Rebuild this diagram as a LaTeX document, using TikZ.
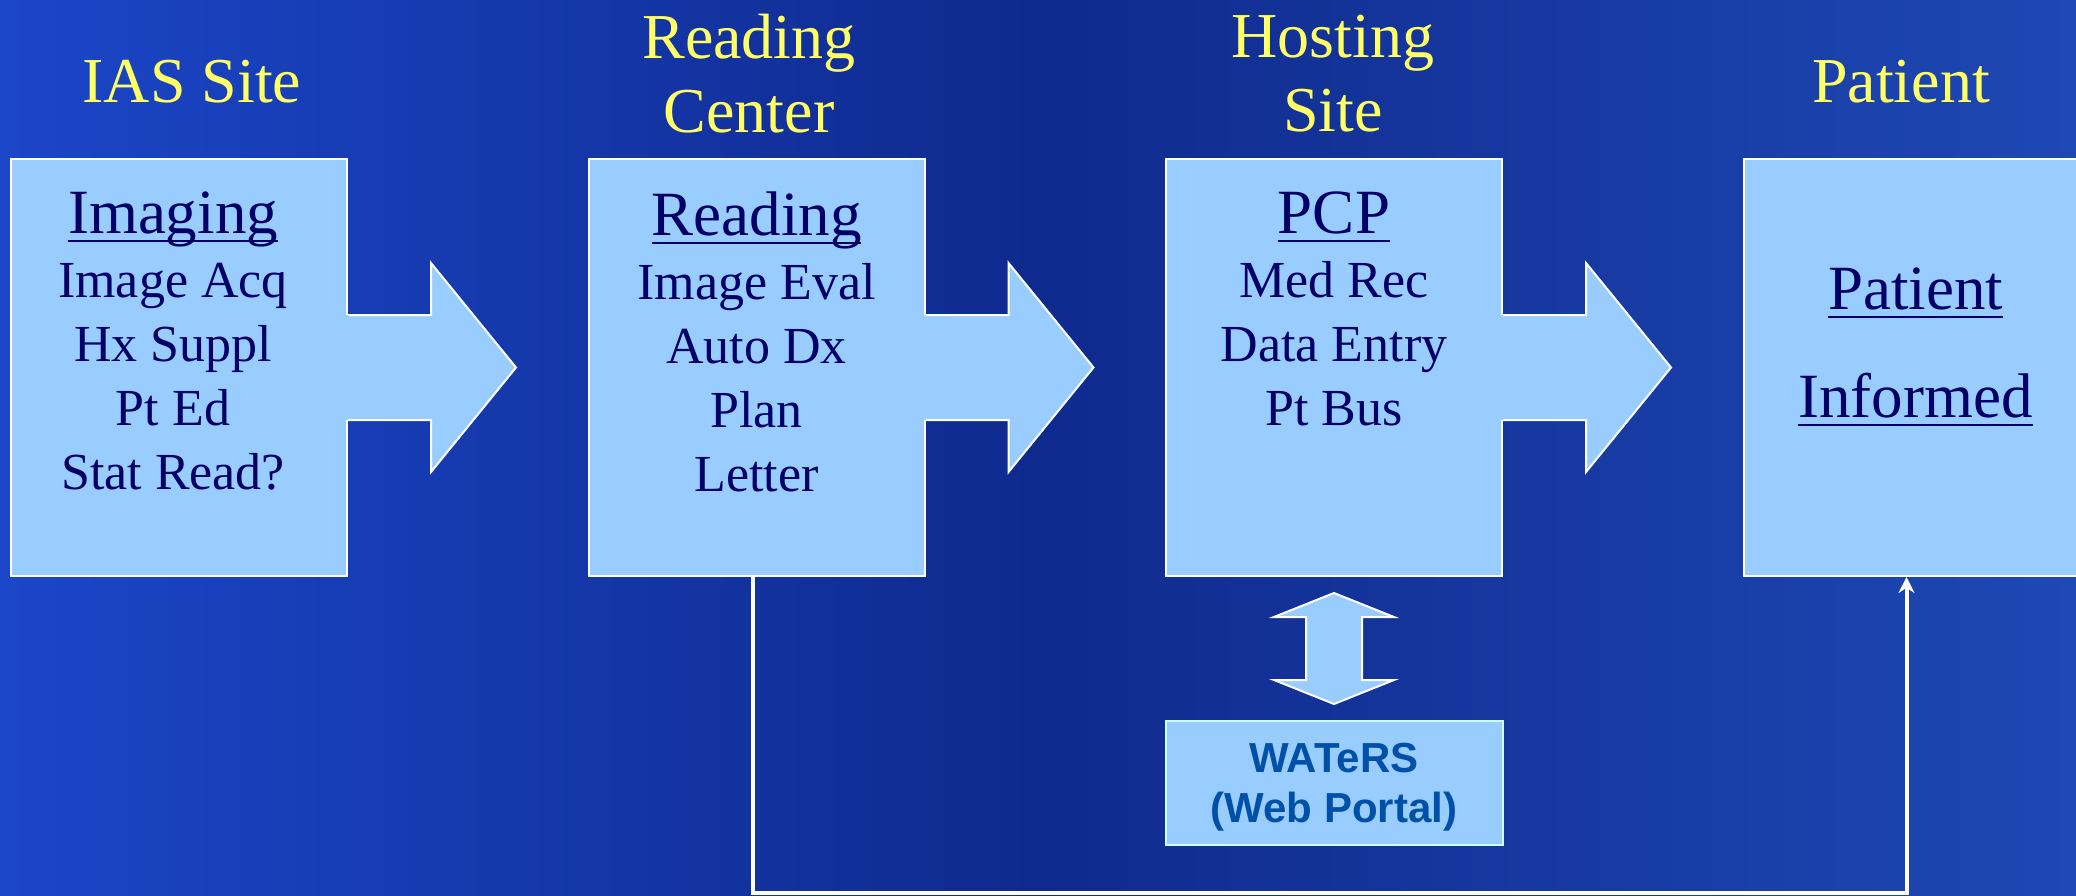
\documentclass[tikz,border=0pt]{standalone}
\usepackage{fontspec}
\setmainfont{Liberation Serif}
\newfontfamily\arialfont{Liberation Sans}
\usetikzlibrary{positioning,arrows.meta}

\definecolor{boxblue}{HTML}{99CCFF}
\definecolor{navytext}{HTML}{000066}
\definecolor{titleyellow}{HTML}{FFFF66}
\definecolor{portaltext}{HTML}{0050A8}
\definecolor{portalline}{HTML}{CCFFFF}
\definecolor{bgleft}{HTML}{1B46C8}
\definecolor{bgmid}{HTML}{0F2A8E}
\definecolor{bgright}{HTML}{1E48B4}

\newcommand{\ulined}[1]{\setbox0\hbox{#1}\rlap{\rule[-4.5pt]{\wd0}{1.3pt}}\box0}

\begin{document}
\begin{tikzpicture}[x=0.5pt,y=-0.5pt,
    every node/.style={inner sep=0pt},
    stage/.style={draw=white,line width=1pt,fill=boxblue,minimum width=168pt,minimum height=208.5pt},
    tasks/.style={align=center,text=navytext,font=\fontsize{26}{32}\selectfont,anchor=north},
    sitename/.style={align=center,text=titleyellow,font=\fontsize{32}{37}\selectfont},
    flow/.style={draw=white,line width=1pt,fill=boxblue},
    link/.style={draw=white,line width=2pt,-{Stealth[length=8pt,width=8pt]}},
    portal/.style={draw=portalline,line width=1pt,fill=boxblue,minimum width=168.5pt,minimum height=62pt},
    portaltxt/.style={align=center,text=portaltext,font=\arialfont\bfseries\fontsize{21}{25}\selectfont}]

% background
\useasboundingbox (0,0) rectangle (2076,895);
\clip (0,0) rectangle (2076,895);
\shade[left color=bgleft,right color=bgright,middle color=bgmid] (0,0) rectangle (2076,895);

% site names
\node[sitename] (ias) at (192,82) {IAS Site};
\node[sitename] (readsite) at (749,74) {Reading\\Center};
\node[sitename] (hostsite) at (1333,74) {Hosting\\Site};
\node[sitename] (patsite) at (1901,82) {Patient};

% stages
\node[stage] (imaging) at (179,367.5) {};
\node[stage,right=119.75pt of imaging] (reading) {};
\node[stage,right=119.75pt of reading] (pcp) {};
\node[stage,right=119.75pt of pcp,minimum width=172pt] (informed) {};

% big arrows between stages
\foreach \n in {imaging,reading,pcp}{
  \fill[boxblue] ([xshift=-1pt,yshift=26.25pt]\n.east) -- ++(42.5pt,0) -- ++(0,26pt) -- ++(42.5pt,-52.25pt)
    -- ++(-42.5pt,-52.25pt) -- ++(0,26pt) -- ++(-42.5pt,0) -- cycle;
  \draw[white,line width=1pt] ([yshift=26.25pt]\n.east) -- ++(41.5pt,0) -- ++(0,26pt) -- ++(42.5pt,-52.25pt)
    -- ++(-42.5pt,-52.25pt) -- ++(0,26pt) -- ++(-41.5pt,0);
}

% stage texts
\node[tasks,xshift=-3pt,below=16.5pt of imaging.north] (imagingtxt)
  {{\fontsize{31.5}{32}\selectfont\ulined{Imaging}}\\Image Acq\\Hx Suppl\\Pt Ed\\Stat Read?};
\node[tasks,below=16.5pt of reading.north] (readingtxt)
  {{\fontsize{31.5}{32}\selectfont\ulined{Reading}}\\Image Eval\\Auto Dx\\Plan\\Letter};
\node[tasks,below=16.5pt of pcp.north] (pcptxt)
  {{\fontsize{31.5}{32}\selectfont\ulined{PCP}}\\Med Rec\\Data Entry\\Pt Bus};
\node[tasks,font=\fontsize{31.5}{54}\selectfont,below=54.5pt of informed.north] (informedtxt)
  {\ulined{Patient}\\\ulined{Informed}};

% web portal
\node[portal,below=71.5pt of pcp] (portal) {};
\node[portaltxt] (portallbl) at ([yshift=-2pt]portal.center) {WATeRS\\(Web Portal)};
\coordinate (dtop) at ([yshift=-8pt]pcp.south);
\draw[flow] (dtop) -- ++(30pt,-12pt) -- ++(-16pt,0) -- ++(0,-31.5pt) -- ++(16pt,0) -- ++(-30pt,-12pt)
  -- ++(-30pt,12pt) -- ++(16pt,0) -- ++(0,31.5pt) -- ++(-16pt,0) -- cycle;

% letter to patient
\draw[link] ([xshift=-2pt]reading.south) -- ++(0,-158pt) -| ([xshift=-4.5pt]informed.south);
\end{tikzpicture}
\end{document}
